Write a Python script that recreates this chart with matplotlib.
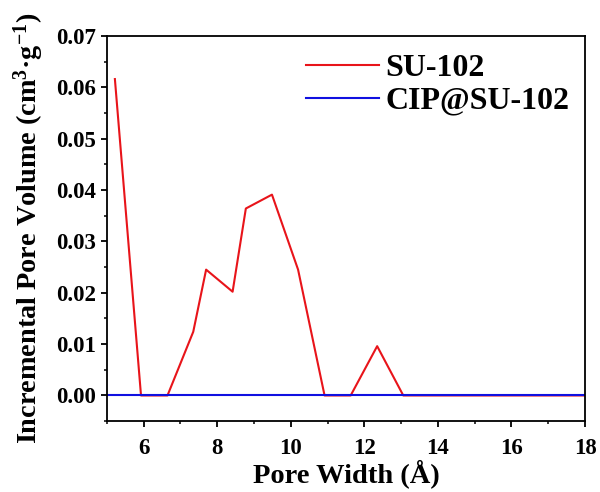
import matplotlib
matplotlib.use('Agg')
import matplotlib.pyplot as plt
from matplotlib.ticker import MultipleLocator

plt.rcParams['font.family'] = 'Liberation Serif'
plt.rcParams['font.weight'] = 'bold'
plt.rcParams['mathtext.fontset'] = 'custom'
plt.rcParams['mathtext.rm'] = 'Liberation Serif:bold'
plt.rcParams['mathtext.it'] = 'Liberation Serif:italic:bold'
plt.rcParams['mathtext.bf'] = 'Liberation Serif:bold'

# pore width (A) and incremental pore volume (cm3/g)
su102_x = [5.22, 5.93, 6.65, 7.35, 7.70, 8.42, 8.78, 9.49, 10.20, 10.92, 11.63, 12.35, 13.06, 14.5, 16.0, 18.0]
su102_y = [0.0616, 0.0, 0.0, 0.0124, 0.0245, 0.0202, 0.0364, 0.0391, 0.0245, 0.0, 0.0, 0.0096, 0.0, 0.0, 0.0, 0.0]
cip_x = [4.8, 6.0, 8.0, 10.0, 12.0, 14.0, 16.0, 18.2]
cip_y = [0.0, 0.0, 0.0, 0.0, 0.0, 0.0, 0.0, 0.0]

fig = plt.figure(figsize=(6, 4.92), dpi=100)
ax = fig.add_axes([0.178, 0.144, 0.797, 0.783])

ax.plot(su102_x, su102_y, color='#e8141a', lw=1.5, label='SU-102')
ax.plot(cip_x, cip_y, color='#1010e0', lw=1.5, label='CIP@SU-102')

ax.set_xlim(5, 18)
ax.set_ylim(-0.005, 0.07)
ax.xaxis.set_major_locator(MultipleLocator(2))
ax.xaxis.set_minor_locator(MultipleLocator(1))
ax.yaxis.set_major_locator(MultipleLocator(0.01))
ax.yaxis.set_minor_locator(MultipleLocator(0.005))
ax.set_xticks([6, 8, 10, 12, 14, 16, 18])
ax.yaxis.set_major_formatter(plt.FormatStrFormatter('%.2f'))

ax.tick_params(which='major', direction='out', length=4, width=1.3, labelsize=16.5, pad=4)
ax.tick_params(axis='x', which='major', pad=8)
ax.tick_params(which='minor', direction='out', length=2.5, width=1.1)
for s in ax.spines.values():
    s.set_linewidth(1.3)

ax.set_xlabel('Pore Width (Å)', fontsize=20.5, fontweight='bold', labelpad=0)
ax.set_ylabel(r'Incremental Pore Volume (cm$^{3}$·g$^{-1}$)', fontsize=20.3, fontweight='bold', labelpad=7)

ax.legend(loc='upper right', bbox_to_anchor=(1.0, 0.995), frameon=False, fontsize=23,
          handlelength=2.27, handletextpad=0.2, borderaxespad=0.1, labelspacing=0.1)

fig.savefig('out.png', dpi=100)
